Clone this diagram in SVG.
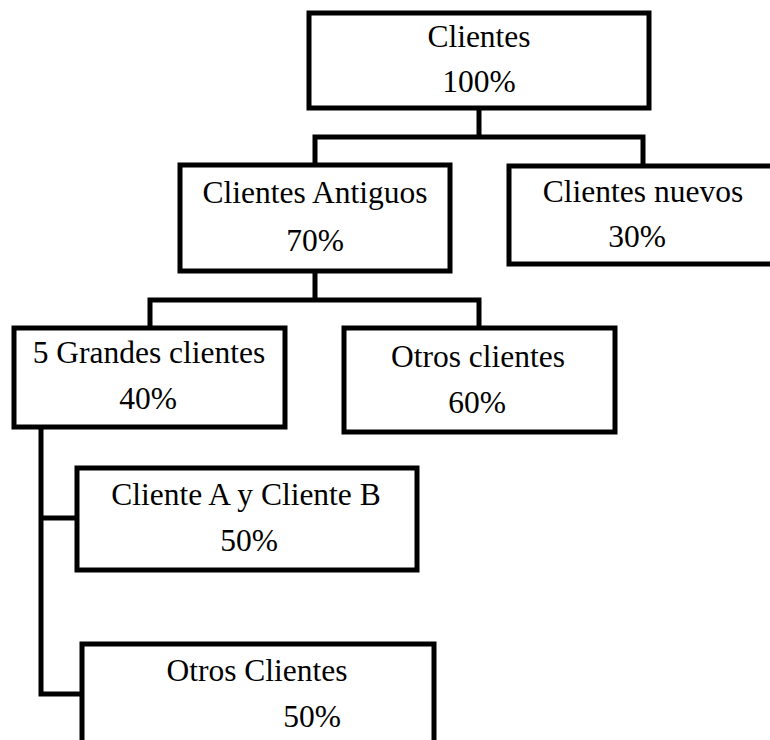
<svg xmlns="http://www.w3.org/2000/svg" width="770" height="740" viewBox="0 0 770 740">
  <style>
    .box { fill: #ffffff; stroke: #000000; stroke-width: 5; stroke-linejoin: miter; }
    .link { fill: none; stroke: #000000; stroke-width: 5; stroke-linejoin: miter; stroke-linecap: square; }
    .label { font-family: "Liberation Serif", "Times New Roman", serif; font-size: 31.5px; fill: #000000; text-anchor: middle; }
  </style>
  <rect width="770" height="740" fill="#ffffff"/>

  <!-- connectors -->
  <g id="connectors">
    <path class="link" d="M479 108 V137 M315 137 H643 M315 137 V165 M643 137 V166"/>
    <path class="link" d="M315 271 V300 M150 300 H479 M150 300 V328 M479 300 V328"/>
    <path class="link" d="M41 427 V694 H82 M41 518 H77"/>
  </g>

  <!-- nodes -->
  <g id="clientes">
    <rect class="box" x="309" y="13" width="340" height="95"/>
    <text class="label" x="479" y="47">Clientes</text>
    <text class="label" x="479" y="92">100%</text>
  </g>

  <g id="clientes-antiguos">
    <rect class="box" x="180" y="165" width="270" height="106"/>
    <text class="label" x="315" y="203">Clientes Antiguos</text>
    <text class="label" x="315" y="251">70%</text>
  </g>

  <g id="clientes-nuevos">
    <rect class="box" x="509" y="166" width="275" height="98"/>
    <text class="label" x="643" y="202">Clientes nuevos</text>
    <text class="label" x="637" y="247">30%</text>
  </g>

  <g id="grandes-clientes">
    <rect class="box" x="14" y="328" width="271" height="99"/>
    <text class="label" x="149" y="363">5 Grandes clientes</text>
    <text class="label" x="148" y="409">40%</text>
  </g>

  <g id="otros-clientes-antiguos">
    <rect class="box" x="344" y="328" width="271" height="104"/>
    <text class="label" x="478" y="367">Otros clientes</text>
    <text class="label" x="477" y="413">60%</text>
  </g>

  <g id="cliente-a-b">
    <rect class="box" x="77" y="468" width="340" height="102"/>
    <text class="label" x="246" y="505">Cliente A y Cliente B</text>
    <text class="label" x="249" y="551">50%</text>
  </g>

  <g id="otros-clientes-grandes">
    <rect class="box" x="82" y="644" width="352" height="110"/>
    <text class="label" x="257" y="681">Otros Clientes</text>
    <text class="label" x="312" y="727">50%</text>
  </g>
</svg>
